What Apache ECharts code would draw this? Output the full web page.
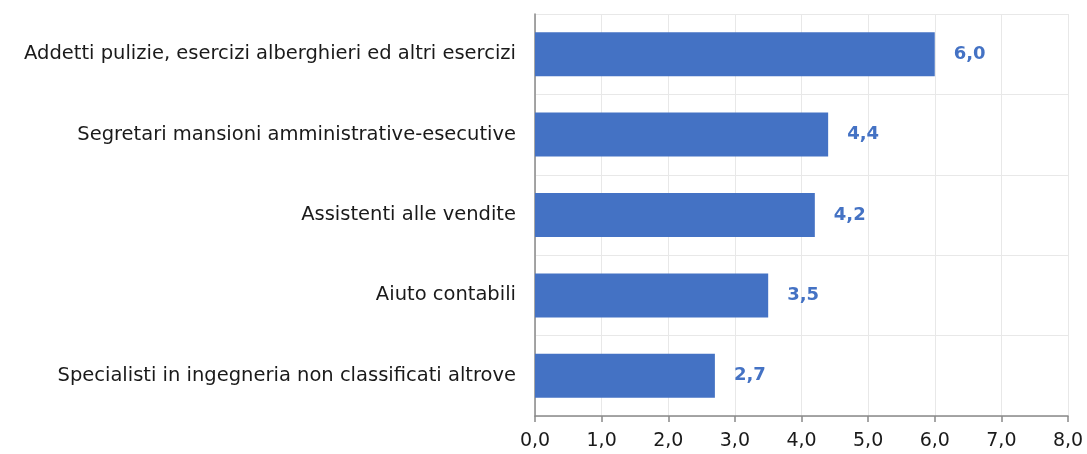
<!DOCTYPE html>
<html>
<head>
<meta charset="utf-8">
<script src="https://cdn.jsdelivr.net/npm/echarts@6/dist/echarts.min.js"></script>
<style>
  html, body { margin: 0; padding: 0; background: #fff; }
  #chart { width: 1087px; height: 454px; }
</style>
</head>
<body>
<div id="chart"></div>
<script>
// categorie (dal basso verso l'alto, come l'asse y di echarts)
var categorie = [
	'Specialisti in ingegneria non classificati altrove',
	'Aiuto contabili',
	'Assistenti alle vendite',
	'Segretari mansioni amministrative-esecutive',
	'Addetti pulizie, esercizi alberghieri ed altri esercizi'
];
var valori = [2.7, 3.5, 4.2, 4.4, 6.0];
var tickLabels = ['0,0', '1,0', '2,0', '3,0', '4,0', '5,0', '6,0', '7,0', '8,0'];

var font = 'DejaVu Sans';
var blu = '#4472C4';

var chart = echarts.init(document.getElementById('chart'));
chart.setOption({
	animation: false,
	grid: {
		left: 535,
		right: 19,
		top: 14,
		bottom: 38
	},
	xAxis: {
		type: 'value',
		min: 0,
		max: 8,
		interval: 1,
		axisLine: { show: true, lineStyle: { color: '#898989', width: 1.5 } },
		axisTick: { show: true, length: 6, lineStyle: { color: '#898989', width: 1.5 } },
		axisLabel: {
			color: '#1a1a1a',
			fontFamily: font,
			fontSize: 19,
			margin: 16,
			formatter: function(v) { return tickLabels[Math.round(v)]; }
		},
		splitLine: { show: true, lineStyle: { color: '#e8e8e8', width: 1 } }
	},
	yAxis: {
		type: 'category',
		data: categorie,
		axisLine: { show: true, lineStyle: { color: '#898989', width: 1.5 } },
		axisTick: { show: false },
		axisLabel: {
			color: '#1a1a1a',
			fontFamily: font,
			fontSize: 19.5,
			margin: 19
		},
		splitLine: { show: true, lineStyle: { color: '#e8e8e8', width: 1 } }
	},
	series: [{
		type: 'bar',
		data: valori,
		barWidth: 44,
		itemStyle: { color: blu },
		label: {
			show: true,
			position: 'right',
			distance: 19,
			color: blu,
			fontFamily: font,
			fontWeight: 'bold',
			fontSize: 18,
			formatter: function(p) { return p.value.toFixed(1).replace('.', ','); }
		}
	}]
});
</script>
</body>
</html>
